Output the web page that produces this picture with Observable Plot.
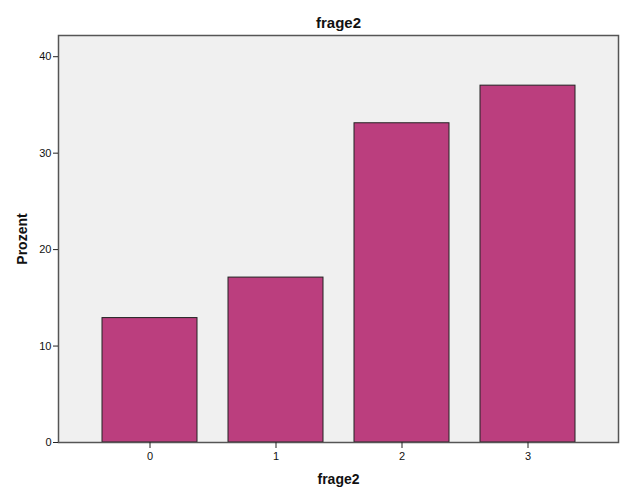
<!DOCTYPE html>
<html>
<head>
<meta charset="utf-8">
<script src="https://cdn.jsdelivr.net/npm/d3@7"></script>
<script src="https://cdn.jsdelivr.net/npm/@observablehq/plot@0.6"></script>
<style>
  body { margin: 0; background: #fff; }
  svg { display: block; }
</style>
</head>
<body>
<div id="chart"></div>
<script>
const categories = ["0", "1", "2", "3"];
const percent = [12.9, 17.1, 33.1, 37.0];
const yTicks = [0, 10, 20, 30, 40];
const title = "frage2";
const xLabel = "frage2";
const yLabel = "Prozent";

const data = categories.map((c, i) => ({cat: c, value: percent[i]}));

const font = "'Liberation Sans', Arial, sans-serif";

const chart = Plot.plot({
  width: 626,
  height: 501,
  marginLeft: 58,
  marginRight: 8,
  marginTop: 35,
  marginBottom: 59,
  style: {fontFamily: font, fontSize: "11px", color: "#111", background: "#fff"},
  x: {domain: categories, paddingInner: 0.248, paddingOuter: 0.34, label: null},
  y: {domain: [0, 42.2], label: null},
  marks: [
    Plot.frame({fill: "#f0f0f0", stroke: "none"}),
    Plot.barY(data, {x: "cat", y: "value", fill: "#bb3e7e", stroke: "#222", strokeWidth: 1}),
    Plot.frame({stroke: "#555", strokeWidth: 1.5}),
    Plot.axisY({ticks: yTicks, tickSize: 5, tickPadding: 2, tickFormat: d => String(d), label: null, stroke: "#222", fill: "#111"}),
    Plot.axisX({tickSize: 6, tickPadding: 4, label: null, stroke: "#222", fill: "#111"}),
    Plot.text([title], {frameAnchor: "top", dy: -18, fontSize: 15, fontWeight: "bold", fill: "#111"}),
    Plot.text([xLabel], {frameAnchor: "bottom", dy: 41, fontSize: 14, fontWeight: "bold", fill: "#111"}),
    Plot.text([yLabel], {frameAnchor: "left", dx: -36, rotate: -90, textAnchor: "middle", fontSize: 14, fontWeight: "bold", fill: "#111"})
  ]
});
document.getElementById("chart").appendChild(chart);
</script>
</body>
</html>
